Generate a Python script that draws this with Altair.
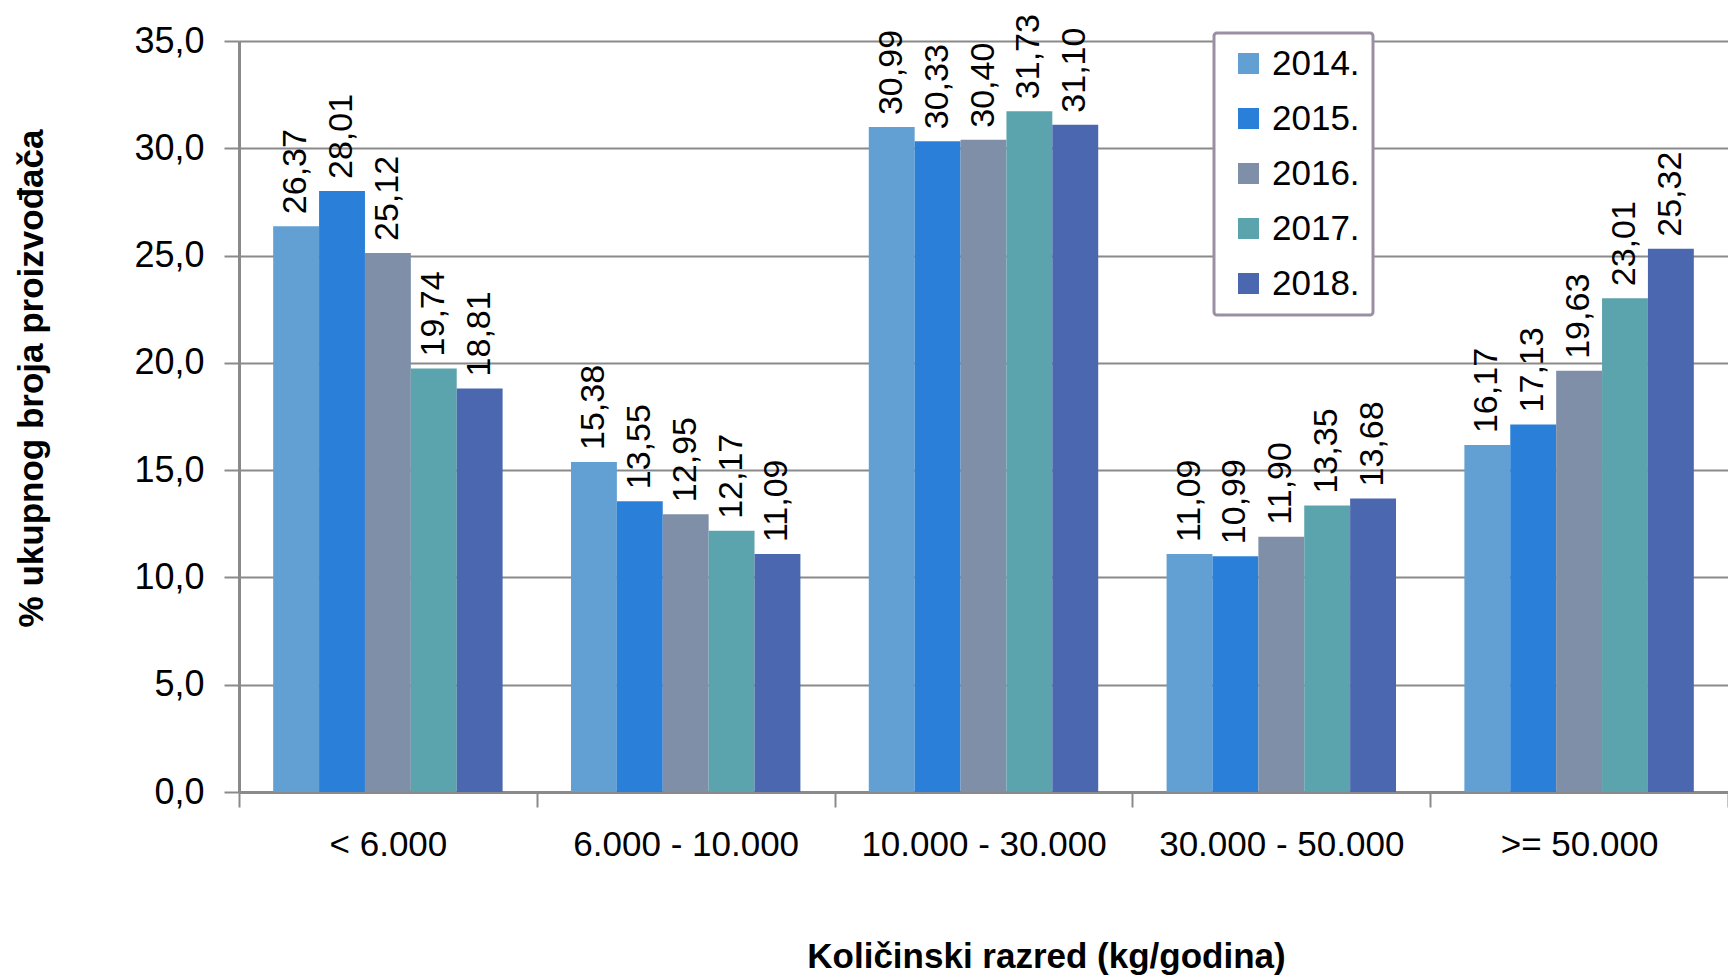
import altair as alt
import pandas as pd

categories = ["< 6.000", "6.000 - 10.000", "10.000 - 30.000", "30.000 - 50.000", ">= 50.000"]
years = ["2014.", "2015.", "2016.", "2017.", "2018."]
v2014 = [26.37, 15.38, 30.99, 11.09, 16.17]
v2015 = [28.01, 13.55, 30.33, 10.99, 17.13]
v2016 = [25.12, 12.95, 30.40, 11.90, 19.63]
v2017 = [19.74, 12.17, 31.73, 13.35, 23.01]
v2018 = [18.81, 11.09, 31.10, 13.68, 25.32]
colors = ["#629FD2", "#2A7FD8", "#7F8FA8", "#5BA4AE", "#4A67AF"]
y_ticks = [0, 5, 10, 15, 20, 25, 30, 35]

rows = []
for yr, vals in zip(years, [v2014, v2015, v2016, v2017, v2018]):
    for c, v in zip(categories, vals):
        rows.append({"razred": c, "godina": yr, "vrijednost": v})
df = pd.DataFrame(rows)

FONT = "Liberation Sans, Arial, sans-serif"
GRID = "#8A8A8A"

base = alt.Chart(df).encode(
    x=alt.X(
        "razred:N",
        sort=categories,
        scale=alt.Scale(paddingInner=0, paddingOuter=0),
        axis=alt.Axis(
            title="Količinski razred (kg/godina)",
            tickBand="extent",
            labelAngle=0,
            labelFont=FONT,
            labelFontSize=35,
            labelColor="black",
            labelPadding=20,
            labelLimit=0,
            tickSize=15,
            tickWidth=2,
            tickColor=GRID,
            domainColor=GRID,
            domainWidth=3,
            titleFont=FONT,
            titleFontSize=35,
            titleFontWeight="bold",
            titleColor="black",
            titleX=807,
            titleY=175,
            titleAlign="center",
            titleBaseline="alphabetic",
        ),
    ),
    xOffset=alt.XOffset("godina:N", sort=years, scale=alt.Scale(paddingInner=0, paddingOuter=0.745)),
    y=alt.Y(
        "vrijednost:Q",
        scale=alt.Scale(domain=[0, 35], nice=False),
        axis=alt.Axis(
            values=y_ticks,
            labelExpr="replace(format(datum.value, '.1f'), '.', ',')",
            title="% ukupnog broja proizvođača",
            grid=True,
            gridColor=GRID,
            gridWidth=2,
            tickSize=15,
            tickWidth=2,
            tickColor=GRID,
            domainColor=GRID,
            domainWidth=3,
            labelFont=FONT,
            labelFontSize=36,
            labelColor="black",
            labelPadding=20,
            titleFont=FONT,
            titleFontSize=35,
            titleFontWeight="bold",
            titleColor="black",
            titleAngle=270,
            titleX=-197,
            titleY=337,
            titleAlign="center",
            titleBaseline="alphabetic",
            titleLimit=0,
        ),
    ),
)

bars = base.mark_bar().encode(
    color=alt.Color(
        "godina:N",
        sort=years,
        scale=alt.Scale(domain=years, range=colors),
        legend=alt.Legend(
            title=None,
            orient="none",
            legendX=975,
            legendY=-8,
            symbolType="square",
            symbolSize=441,
            symbolStrokeWidth=0,
            labelFont=FONT,
            labelFontSize=35,
            labelColor="black",
            labelOffset=6,
            rowPadding=19,
            padding=13,
            symbolOffset=4,
            strokeColor="#9B8FA3",
            fillColor="white",
            cornerRadius=3,
        ),
    )
)

labels = base.transform_calculate(
    label="replace(format(datum.vrijednost, '.2f'), '.', ',')"
).mark_text(
    angle=270, align="left", baseline="middle", dx=12, font=FONT, fontSize=34, color="black"
).encode(text="label:N")

chart = (
    alt.layer(bars, labels)
    .properties(
        width=1489,
        height=751,
        autosize=alt.AutoSizeParams(type="none"),
        padding={"left": 231, "top": 33, "right": 0, "bottom": 183},
    )
    .configure_view(stroke=None)
    .configure_legend(strokeWidth=3)
)

chart.save("out.html", embed_options={"renderer": "svg", "actions": False})
